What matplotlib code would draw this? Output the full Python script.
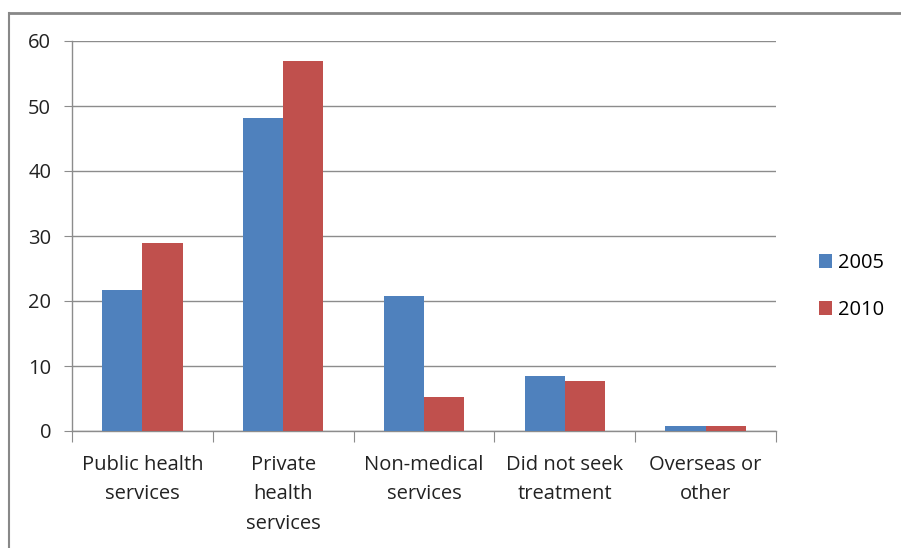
import numpy as np
import matplotlib.pyplot as plt
from matplotlib.lines import Line2D

# data
categories = ["Public health\nservices", "Private\nhealth\nservices", "Non-medical\nservices",
              "Did not seek\ntreatment", "Overseas or\nother"]
series_names = ["2005", "2010"]
vals_2005 = [21.7, 48.2, 20.7, 8.5, 0.7]
vals_2010 = [29.0, 56.9, 5.2, 7.7, 0.7]
y_ticks = [0, 10, 20, 30, 40, 50, 60]

BLUE = "#4f81bd"
RED = "#c0504d"
GRID = "#8c8c8c"
FS = 14.5

plt.rcParams['font.family'] = ['Open Sans', 'DejaVu Sans']

fig = plt.figure(figsize=(9.01, 5.48), dpi=100)
ax = fig.add_axes([72 / 901, 1 - 431 / 548, (776 - 72) / 901, (431 - 41) / 548])

x = np.arange(len(categories))
w = 0.285
ax.bar(x - w / 2, vals_2005, width=w, color=BLUE, label=series_names[0], zorder=3)
ax.bar(x + w / 2, vals_2010, width=w, color=RED, label=series_names[1], zorder=3)

ax.set_xlim(-0.5, len(categories) - 0.5)
ax.set_ylim(0, 60)
ax.set_yticks(y_ticks)
ax.yaxis.grid(True, color=GRID, linewidth=1.0, zorder=0)
ax.set_axisbelow(True)

# category boundaries as major ticks, labels on minor ticks at centres
ax.set_xticks(np.arange(len(categories) + 1) - 0.5)
ax.set_xticklabels([])
ax.set_xticks(x, minor=True)
ax.set_xticklabels(categories, minor=True, fontsize=FS, color="#222222", linespacing=1.65)
ax.tick_params(axis='x', which='major', length=8, color=GRID, direction='out')
ax.tick_params(axis='x', which='minor', length=0, pad=17)
ax.tick_params(axis='y', length=6, color=GRID, labelsize=FS, labelcolor="#222222", pad=9)

for s in ['top', 'right']:
    ax.spines[s].set_visible(False)
for s in ['left', 'bottom']:
    ax.spines[s].set_color(GRID)
    ax.spines[s].set_linewidth(1.0)

ax.legend(loc='center left', bbox_to_anchor=(1.035, 0.37), frameon=False, fontsize=FS,
          handlelength=0.65, handleheight=0.65, handletextpad=0.3, labelspacing=1.35)

# outer chart border (cropped)
fig.add_artist(Line2D([9 / 901, 1], [1 - 13 / 548, 1 - 13 / 548], color="#888888", linewidth=2))
fig.add_artist(Line2D([9 / 901, 9 / 901], [0, 1 - 13 / 548], color="#888888", linewidth=1.5))

fig.savefig("out.png", dpi=100)
